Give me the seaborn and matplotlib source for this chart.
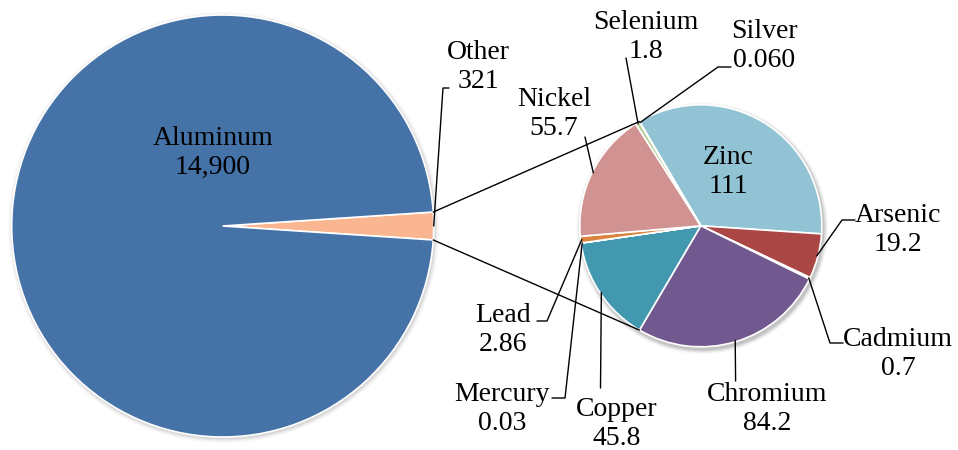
import numpy as np
import matplotlib
matplotlib.use("Agg")
import matplotlib.pyplot as plt
import seaborn as sns

# ---- data ----
main_labels = ["Other", "Aluminum"]
main_values = [321, 14900]
main_texts = ["321", "14,900"]

sub_labels = ["Zinc", "Arsenic", "Cadmium", "Chromium", "Copper",
              "Mercury", "Lead", "Nickel", "Selenium", "Silver"]
sub_values = [111, 19.2, 0.7, 84.2, 45.8, 0.03, 2.86, 55.7, 1.8, 0.060]
sub_texts = ["111", "19.2", "0.7", "84.2", "45.8", "0.03", "2.86", "55.7", "1.8", "0.060"]

main_colors = ["#F9B690", "#4572A7"]
sub_colors = sns.color_palette(["#92C3D5", "#AA4643", "#EDEDED", "#71588F", "#4198AF",
                                "#A99BBD", "#DB843D", "#D19392", "#B9CD96", "#F2F2F2"])

sns.set_theme(style="white")
plt.rcParams["font.family"] = ["Liberation Serif", "DejaVu Serif"]

W, H = 958, 450
fig = plt.figure(figsize=(W / 100, H / 100), dpi=100)
ax = fig.add_axes([0, 0, 1, 1])

def Y(y):
    return H - y

# geometry (pixels)
c1 = (222.7, Y(226)); r1 = 211
c2 = (700.8, Y(225.8)); r2 = 121

# shadows
for k, a in enumerate(np.linspace(0.05, 0.012, 5)):
    ax.add_patch(plt.Circle((c1[0] + 1, c1[1] - 1.5), r1 + 1 + k, color="#000000", alpha=a, lw=0, zorder=0))
    ax.add_patch(plt.Circle((c2[0] + 1.5, c2[1] - 2.5), r2 + 1 + k, color="#000000", alpha=a * 1.6, lw=0, zorder=0))

ang_other = 360 * main_values[0] / sum(main_values)
w1, _ = ax.pie(main_values, center=c1, radius=r1, colors=main_colors,
               startangle=-ang_other / 2, counterclock=True,
               wedgeprops=dict(edgecolor="white", linewidth=1.2))

start2 = 120.5
w2, _ = ax.pie(sub_values, center=c2, radius=r2, colors=sub_colors,
               startangle=start2, counterclock=False,
               wedgeprops=dict(edgecolor="white", linewidth=1.2))

ax.set_xlim(0, W)
ax.set_ylim(0, H)
ax.set_aspect("equal")
ax.axis("off")

def pt(center, r, ang):
    a = np.deg2rad(ang)
    return (center[0] + r * np.cos(a), center[1] + r * np.sin(a))

# series connector lines
top1 = pt(c1, r1, ang_other / 2)
bot1 = pt(c1, r1, -ang_other / 2)
top2 = pt(c2, r2, start2)
bot2 = pt(c2, r2, -start2)
ax.plot([top1[0], top2[0]], [top1[1], top2[1]], color="black", lw=1.0, zorder=5)
ax.plot([bot1[0], bot2[0]], [bot1[1], bot2[1]], color="black", lw=1.0, zorder=5)

def mid_anchor(w, center, r, f=0.99):
    m = (w.theta1 + w.theta2) / 2
    return pt(center, r * f, m)

fs = 20
ls = 1.24
dy = 2  # small downward nudge of label blocks

# label block centers (pixels) and leader polylines (after anchor)
sub_layout = {
    "Zinc": ((728, 170), None),
    "Arsenic": ((898, 228), [(842, 220), (855, 220)]),
    "Cadmium": ((898, 352), [(830, 343), (843, 343)]),
    "Chromium": ((767, 407), [(735.6, 381)]),
    "Copper": ((617, 422), [(600.5, 388)]),
    "Mercury": ((502, 407), [(565, 398), (552, 398)]),
    "Lead": ((503, 328), [(547, 321), (537, 321)]),
    "Nickel": ((554, 112), [(585, 137)]),
    "Selenium": ((646, 35), [(626, 58)]),
    "Silver": ((764, 44), [(718, 67), (731, 67)]),
}

for w, lab, txt in zip(w2, sub_labels, sub_texts):
    (lx, ly), path = sub_layout[lab]
    ax.text(lx, Y(ly + dy), f"{lab}\n{txt}", ha="center", va="center",
            fontsize=fs, linespacing=ls, color="black", zorder=6)
    if path:
        a = mid_anchor(w, c2, r2)
        xs = [a[0]] + [p[0] for p in path]
        ys = [a[1]] + [Y(p[1]) for p in path]
        ax.plot(xs, ys, color="black", lw=1.0, zorder=5)

# main pie labels
ax.text(213, Y(151 + dy), f"{main_labels[1]}\n{main_texts[1]}", ha="center", va="center",
        fontsize=fs, linespacing=ls, color="black", zorder=6)
ax.text(478, Y(65 + dy), f"{main_labels[0]}\n{main_texts[0]}", ha="center", va="center",
        fontsize=fs, linespacing=ls, color="black", zorder=6)
a = mid_anchor(w1[0], c1, r1, 1.0)
ax.plot([a[0], 443, 449], [a[1], Y(88), Y(88)], color="black", lw=1.0, zorder=5)

fig.savefig("out.png", dpi=100, facecolor="white")
